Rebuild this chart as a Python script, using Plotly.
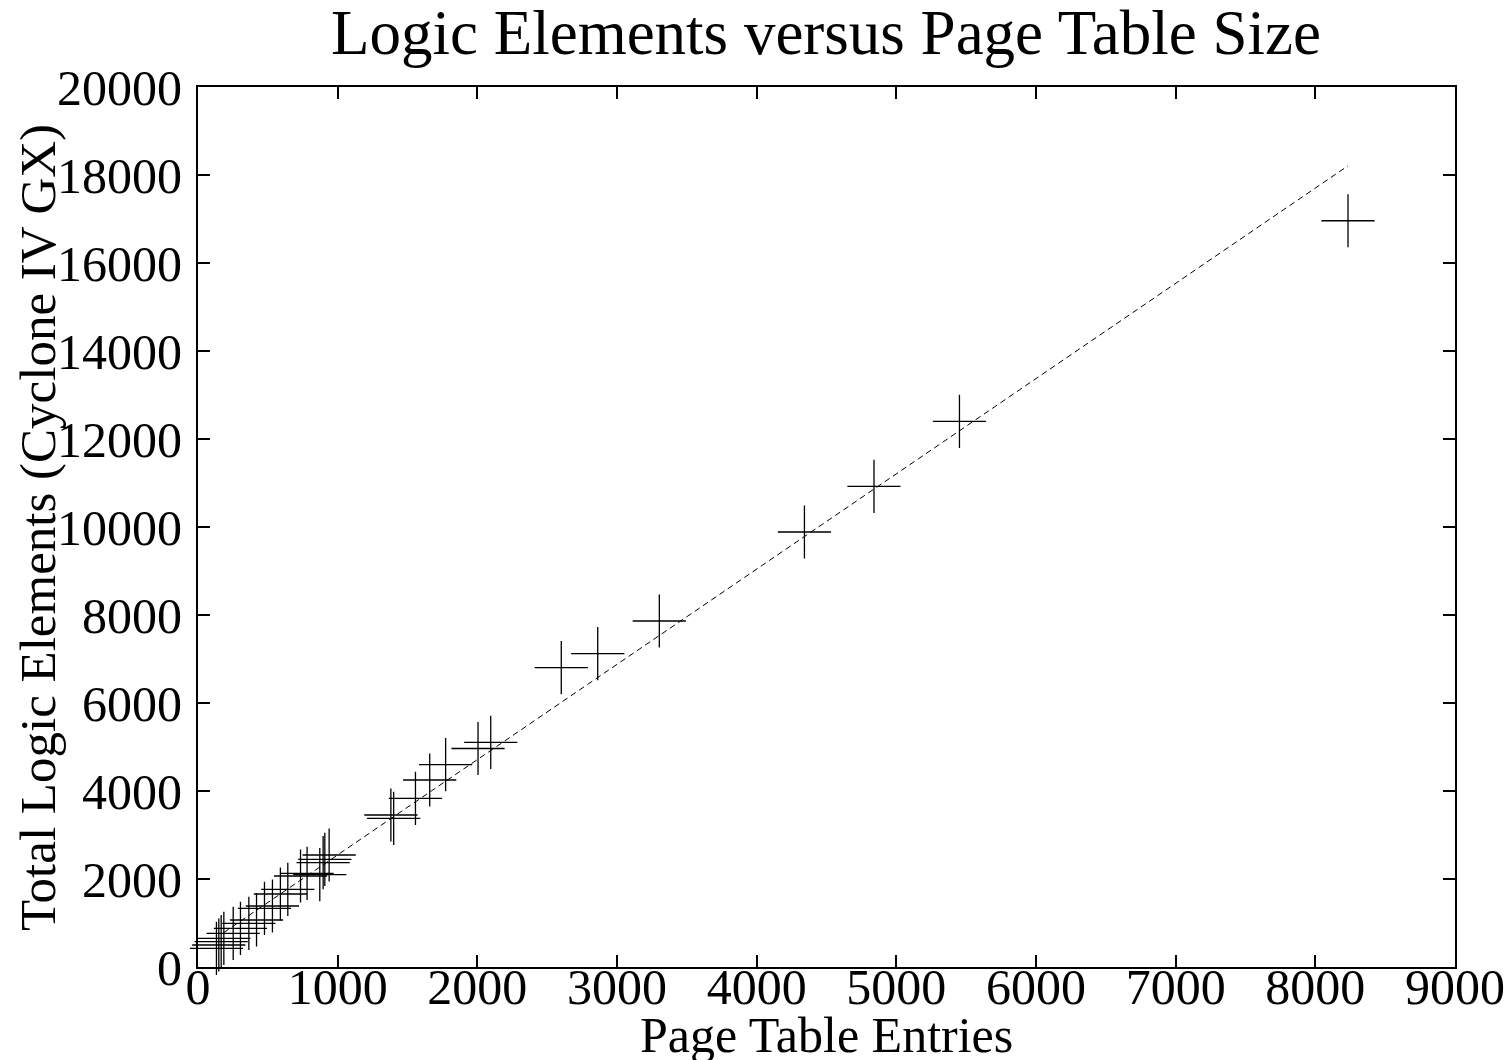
import plotly.graph_objects as go

# Page table entries (x) and total logic elements (y)
page_table_entries = [132, 149, 166, 185, 252, 304, 364, 419, 476, 533, 590, 643,
                      734, 781, 872, 896, 908, 939,
                      1381, 1401, 1557, 1659, 1773, 2005, 2096,
                      2601, 2862, 3303, 4342, 4840, 5452, 8234]
logic_elements = [425, 500, 575, 652, 766, 880, 993, 1068, 1334, 1386, 1659, 1766,
                  2068, 2130, 2100, 2370, 2448, 2545,
                  3455, 3380, 3834, 4250, 4598, 4966, 5107,
                  6802, 7121, 7864, 9886, 10925, 12402, 16960]

# Linear fit shown as a dashed line
fit_slope = 2.165
fit_intercept = 383
fit_x_span = [185, 8234]

x_ticks = list(range(0, 9001, 1000))
y_ticks = list(range(0, 20001, 2000))

FONT = "Liberation Serif, Times New Roman, serif"

fig = go.Figure()
fig.add_trace(go.Scatter(
    x=fit_x_span,
    y=[fit_slope * v + fit_intercept for v in fit_x_span],
    mode="lines",
    line=dict(color="black", width=1, dash="6px,4px"),
    showlegend=False, hoverinfo="skip",
))
fig.add_trace(go.Scatter(
    x=page_table_entries, y=logic_elements,
    mode="markers",
    marker=dict(symbol="cross-thin", size=38, color="black",
                line=dict(color="black", width=1.3)),
    cliponaxis=False,
    showlegend=False,
))

axis_common = dict(
    showgrid=False, zeroline=False,
    showline=True, linecolor="black", linewidth=2, mirror="ticks",
    ticks="inside", ticklen=12, tickwidth=2, tickcolor="black",
    tickfont=dict(family=FONT, size=50, color="black"),
    ticklabeloverflow="allow",
)

fig.update_layout(
    width=1510, height=1060,
    margin=dict(l=198, r=55, t=87, b=93, autoexpand=False),
    paper_bgcolor="white", plot_bgcolor="white",
    font=dict(family=FONT, color="black"),
    title=dict(text="Logic Elements versus Page Table Size",
               font=dict(family=FONT, size=63, color="black"),
               x=0.547, xanchor="center", y=0.970, yanchor="middle"),
    xaxis=dict(range=[0, 9000], tickvals=x_ticks, ticktext=[str(t) for t in x_ticks],
               ticklabelstandoff=-25, **axis_common),
    yaxis=dict(range=[0, 20000], tickvals=y_ticks, ticktext=[str(t) for t in y_ticks],
               ticklabelstandoff=4, **axis_common),
    annotations=[
        dict(text="Page Table Entries", xref="paper", yref="paper",
             x=0.5, y=-0.0773, xanchor="center", yanchor="middle", showarrow=False,
             font=dict(family=FONT, size=50, color="black")),
        dict(text="Total Logic Elements (Cyclone IV GX)", xref="paper", yref="paper",
             x=-0.1273, y=0.5, xanchor="center", yanchor="middle", showarrow=False,
             textangle=-90, font=dict(family=FONT, size=51, color="black")),
    ],
)

fig.write_html(
    "out.html",
    config={"displayModeBar": False},
    post_script="document.body.style.margin='0';document.body.style.overflow='hidden';",
)
